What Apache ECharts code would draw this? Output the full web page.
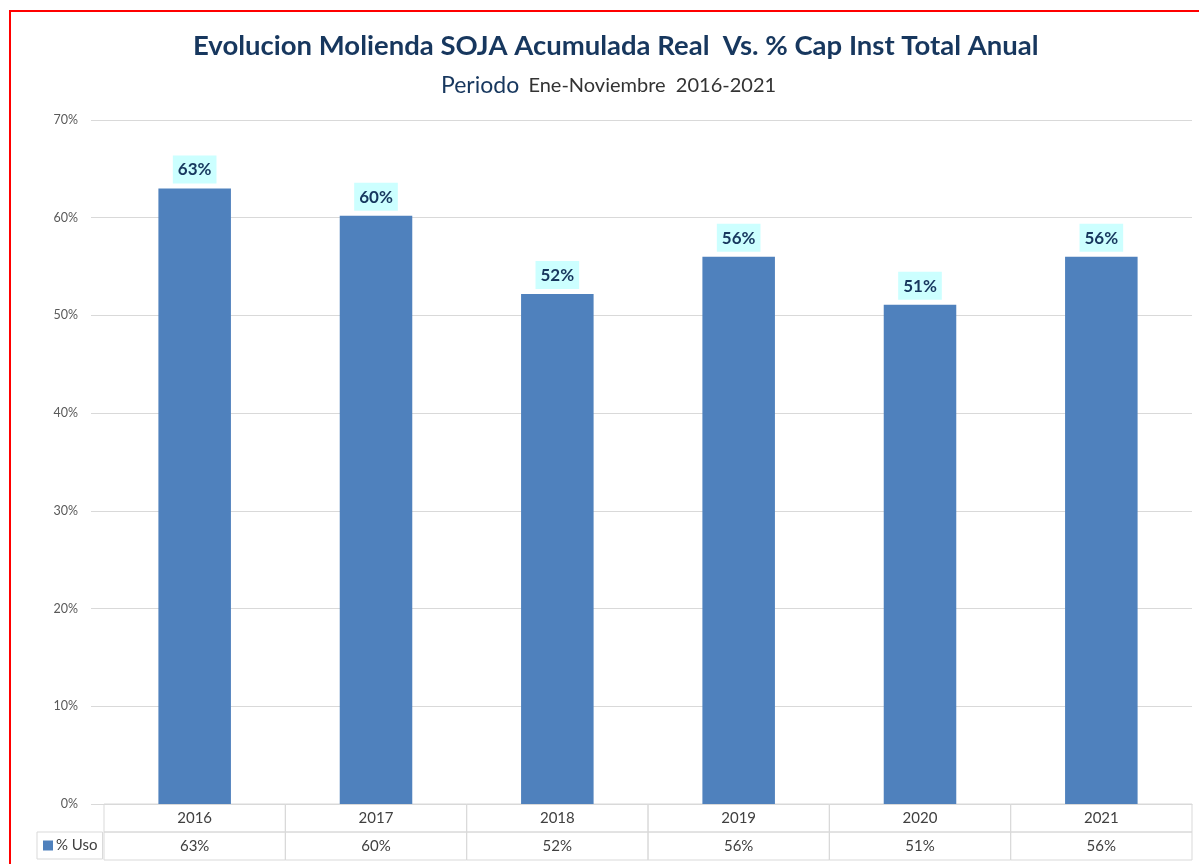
<!DOCTYPE html>
<html>
<head>
<meta charset="utf-8">
<script src="https://cdn.jsdelivr.net/npm/echarts@6/dist/echarts.min.js"></script>
<style>
  html, body { margin: 0; padding: 0; background: #fff; }
  #frame { position: absolute; left: 9px; top: 10px; width: 1300px; height: 1000px; border-top: 2px solid #ff0000; border-left: 2px solid #ff0000; }
  #chart { position: absolute; left: 0; top: 0; width: 1199px; height: 864px; }
</style>
</head>
<body>
<div id="frame"></div>
<div id="chart"></div>
<script>
  const years = ['2016', '2017', '2018', '2019', '2020', '2021']
  const usoValues = [0.63, 0.602, 0.522, 0.56, 0.511, 0.56]
  const yTicks = { min: 0, max: 0.7, interval: 0.1 }
  const seriesName = '% Uso'

  const pct = v => Math.round(v * 100) + '%'
  const font = 'Lato, "Open Sans", sans-serif'
  const cellW = (1192 - 104) / years.length

  // caja de celda para la tabla de datos
  const cell = {
    interval: 0,
    margin: 0,
    width: cellW,
    height: 28,
    lineHeight: 28,
    align: 'center',
    borderWidth: 1,
    borderColor: '#d9d9d9',
    fontSize: 15,
    color: '#404040',
    fontFamily: font
  }

  const chart = echarts.init(document.getElementById('chart'))
  chart.setOption({
    animation: false,
    textStyle: { fontFamily: font },
    title: [
      {
        text: 'Evolucion Molienda SOJA Acumulada Real  Vs. % Cap Inst Total Anual',
        left: 188,
        top: 27,
        textStyle: { fontSize: 27.5, fontWeight: 'bold', color: '#17375e', fontFamily: font }
      },
      {
        text: '{a|Periodo}  {b|Ene-Noviembre  2016-2021}',
        left: 436,
        top: 69,
        textStyle: {
          fontWeight: 'normal',
          rich: {
            a: { fontSize: 23, fontWeight: 'normal', color: '#17375e', fontFamily: font },
            b: { fontSize: 20, fontWeight: 'normal', color: '#333333', fontFamily: font }
          }
        }
      }
    ],
    legend: {
      data: [seriesName],
      left: 37,
      top: 832,
      padding: [6, 5, 6, 6],
      borderWidth: 1,
      borderColor: '#d9d9d9',
      icon: 'rect',
      itemWidth: 10,
      itemHeight: 10,
      itemGap: 0,
      textStyle: { fontSize: 15, color: '#404040', padding: [0, 0, 0, -2] }
    },
    grid: { left: 104, right: 7, top: 120, bottom: 60, containLabel: false },
    xAxis: [
      {
        type: 'category',
        data: years,
        position: 'bottom',
        axisLine: { show: true, lineStyle: { color: '#d9d9d9' } },
        axisTick: { show: false },
        axisLabel: cell
      },
      {
        type: 'category',
        data: usoValues.map(pct),
        position: 'bottom',
        offset: 28,
        axisLine: { show: false },
        axisTick: { show: false },
        axisLabel: cell
      }
    ],
    yAxis: {
      type: 'value',
      min: yTicks.min,
      max: yTicks.max,
      interval: yTicks.interval,
      axisLine: { show: false },
      axisTick: { show: true, length: 13, lineStyle: { color: '#d9d9d9' } },
      axisLabel: {
        margin: 26,
        fontSize: 12.5,
        color: '#595959',
        fontFamily: font,
        formatter: v => Math.round(v * 100) + '%'
      },
      splitLine: { lineStyle: { color: '#d9d9d9' } }
    },
    series: [
      {
        name: seriesName,
        type: 'bar',
        xAxisIndex: 0,
        data: usoValues,
        barWidth: '40%',
        itemStyle: { color: '#4f81bd' },
        label: {
          show: true,
          position: 'top',
          distance: 5,
          formatter: p => pct(p.value),
          fontSize: 17,
          fontWeight: 'bold',
          color: '#17375e',
          backgroundColor: '#ccffff',
          padding: [6, 5, 5, 5],
          fontFamily: font
        }
      }
    ]
  })
</script>
</body>
</html>
